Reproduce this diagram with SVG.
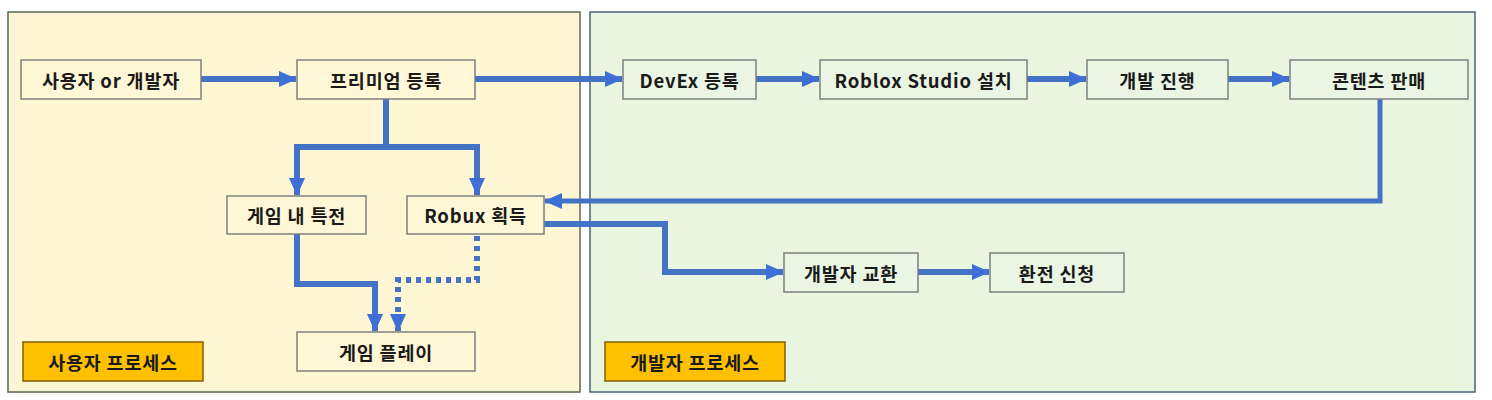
<svg xmlns="http://www.w3.org/2000/svg" width="1492" height="400" viewBox="0 0 1492 400">
<style>
.panelL{fill:#FFF7D3;stroke:#55694F;stroke-width:1.5}
.panelR{fill:#E9F5DF;stroke:#4A6079;stroke-width:1.5}
.boxL{fill:#FFF7D6;stroke:#7F7F7F;stroke-width:1.5}
.boxR{fill:#EBF5E4;stroke:#7F7F7F;stroke-width:1.5}
.lbl{fill:#FFC000;stroke:#7F6000;stroke-width:1.5}
text{font-family:"Noto Sans CJK KR","Noto Sans",sans-serif;font-weight:bold;font-size:18.5px;letter-spacing:0.8px;fill:#1a1a1a;text-anchor:middle;dominant-baseline:central}
.c{fill:none;stroke:#4472C4;stroke-width:6}
.thin{stroke-width:5}
.dot{stroke-dasharray:5 5}
</style>
<defs>
<marker id="ah" markerUnits="userSpaceOnUse" markerWidth="19" markerHeight="19" viewBox="0 0 19 19" refX="17" refY="9.5" orient="auto">
<path d="M0,1.5 L18,9.5 L0,17.5 Z" fill="#3D6FD6"/>
</marker>
</defs>
<rect class="panelL" x="8" y="12" width="572" height="380"/>
<rect class="panelR" x="590" y="12" width="885" height="380"/>
<line x1="580" y1="12" x2="580" y2="392" stroke="#8A8A8A" stroke-width="1.5" stroke-dasharray="1.5 1.5"/>
<g id="connectors">
<path class="c" d="M201,79 H296" marker-end="url(#ah)"/>
<path class="c" d="M475,79 H622" marker-end="url(#ah)"/>
<path class="c" d="M756,79 H819" marker-end="url(#ah)"/>
<path class="c" d="M1027,79 H1086" marker-end="url(#ah)"/>
<path class="c" d="M1228,79 H1289" marker-end="url(#ah)"/>
<path class="c" d="M386,99 V147 H297 V195" marker-end="url(#ah)"/>
<path class="c" d="M386,147 H477 V195" marker-end="url(#ah)"/>
<path class="c" d="M297,234 V284 H375 V331" marker-end="url(#ah)"/>
<path class="c dot" d="M477,236 V280 H398 V331" marker-end="url(#ah)"/>
<path class="c thin" d="M1380,99 V201 H545" marker-end="url(#ah)"/>
<path class="c" d="M544,224 H665 V272 H783" marker-end="url(#ah)"/>
<path class="c" d="M918,272 H989" marker-end="url(#ah)"/>
</g>
<g id="n1"><rect class="boxL" x="21" y="60" width="180" height="39"/><text x="111" y="79.5">사용자 or 개발자</text></g>
<g id="n2"><rect class="boxL" x="297" y="60" width="178" height="39"/><text x="386" y="79.5">프리미엄 등록</text></g>
<g id="n3"><rect class="boxR" x="623" y="60" width="133" height="39"/><text x="689.5" y="79.5">DevEx 등록</text></g>
<g id="n4"><rect class="boxR" x="820" y="60" width="207" height="39"/><text x="923.5" y="79.5">Roblox Studio 설치</text></g>
<g id="n5"><rect class="boxR" x="1087" y="60" width="141" height="39"/><text x="1157.5" y="79.5">개발 진행</text></g>
<g id="n6"><rect class="boxR" x="1290" y="60" width="178" height="39"/><text x="1379" y="79.5">콘텐츠 판매</text></g>
<g id="n7"><rect class="boxL" x="227" y="196" width="139" height="38"/><text x="296.5" y="215">게임 내 특전</text></g>
<g id="n8"><rect class="boxL" x="407" y="196" width="137" height="38"/><text x="475.5" y="215">Robux 획득</text></g>
<g id="n9"><rect class="boxL" x="297" y="332" width="178" height="39"/><text x="386" y="351.5">게임 플레이</text></g>
<g id="n10"><rect class="boxR" x="784" y="253" width="134" height="39"/><text x="851" y="272.5">개발자 교환</text></g>
<g id="n11"><rect class="boxR" x="990" y="253" width="134" height="39"/><text x="1057" y="272.5">환전 신청</text></g>
<g id="l1"><rect class="lbl" x="23" y="342" width="180" height="39"/><text x="113" y="361.5">사용자 프로세스</text></g>
<g id="l2"><rect class="lbl" x="605" y="342" width="180" height="39"/><text x="695" y="361.5">개발자 프로세스</text></g>
</svg>
